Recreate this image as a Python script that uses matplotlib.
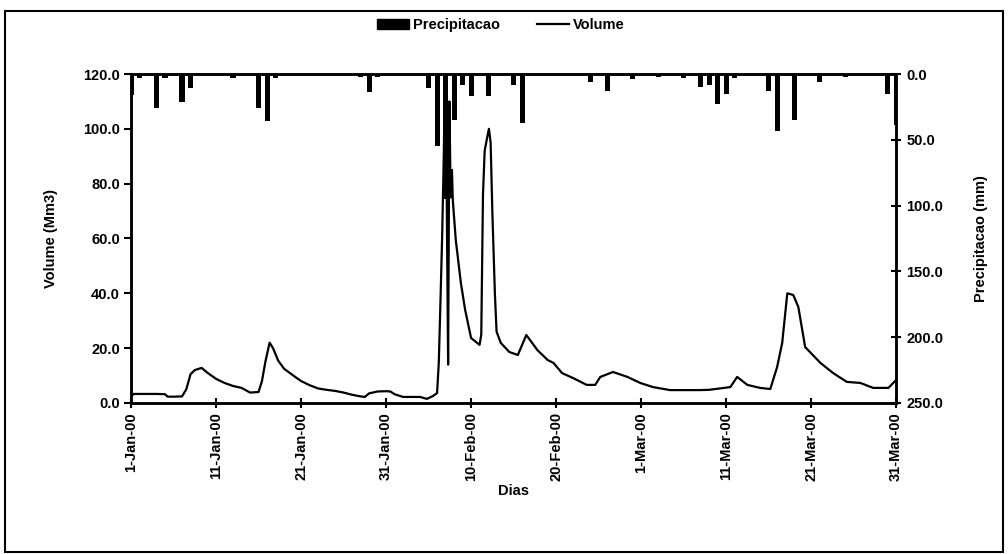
import matplotlib
matplotlib.use("Agg")
import matplotlib.pyplot as plt
from matplotlib.patches import Rectangle
from matplotlib.lines import Line2D
from matplotlib.patches import Patch

plt.rcParams['font.family'] = ['Liberation Sans Narrow', 'Liberation Sans', 'DejaVu Sans']

# Days counted from 1-Jan-2000 (day 0) to 31-Mar-2000 (day 90)
tick_days = [0, 10, 20, 30, 40, 50, 60, 70, 80, 90]
tick_labels = ["1-Jan-00", "11-Jan-00", "21-Jan-00", "31-Jan-00", "10-Feb-00",
               "20-Feb-00", "1-Mar-00", "11-Mar-00", "21-Mar-00", "31-Mar-00"]

# Reservoir volume (Mm3), sampled at irregular times (days)
vol_days = [0.0, 0.3, 1, 2, 3, 4, 4.3, 5, 6, 6.5, 7, 7.5, 8, 8.3, 9, 10, 11, 12, 13, 14,
            15, 15.4, 15.8, 16.3, 16.7, 17.3, 18, 19, 20, 21, 22, 23, 24, 25, 26, 27,
            27.5, 28, 29, 30, 30.5, 31, 32, 33, 34, 34.8, 35.5, 36.0, 36.2, 36.4, 36.6,
            36.8, 37.0, 37.15, 37.3, 37.45, 37.6, 37.75, 37.85, 38.2, 38.8, 39.3, 40.0,
            41.0, 41.2, 41.4, 41.6, 41.9, 42.1, 42.3, 42.5, 42.8, 43.0, 43.5, 44.5, 45.5,
            46.5, 47.8, 49.0, 49.7, 50.7, 52.0, 53.6, 54.6, 55.2, 56.7, 58.4, 59.9, 61.4,
            63.4, 66.9, 68.0, 70.5, 71.3, 72.5, 74.0, 75.2, 76.0, 76.6, 77.2, 77.9, 78.5,
            79.3, 81.1, 82.6, 84.2, 85.8, 87.3, 89.1, 90.0]
volume = [2.2, 3.3, 3.3, 3.3, 3.3, 3.2, 2.3, 2.3, 2.4, 5.0, 10.5, 12.0, 12.5, 12.8, 11.0,
          8.8, 7.3, 6.2, 5.5, 3.8, 4.0, 8.0, 15.0, 22.0, 20.0, 15.5, 12.5, 10.2, 8.0, 6.5,
          5.3, 4.8, 4.4, 3.8, 3.0, 2.4, 2.2, 3.5, 4.2, 4.3, 4.2, 3.2, 2.2, 2.2, 2.2, 1.5,
          2.5, 3.6, 14.5, 37.0, 61.0, 92.0, 140.0, 70.0, 14.0, 110.0, 75.0, 85.0, 74.0,
          59.5, 43.8, 34.0, 23.7, 21.2, 25.0, 76.0, 92.0, 97.0, 100.0, 95.0, 70.0, 40.0,
          26.0, 21.9, 18.6, 17.5, 24.8, 19.3, 15.7, 14.6, 10.9, 9.1, 6.6, 6.6, 9.5, 11.3,
          9.5, 7.3, 5.8, 4.7, 4.7, 4.8, 5.8, 9.5, 6.6, 5.5, 5.1, 13.1, 21.9, 40.0, 39.4,
          35.0, 20.4, 14.6, 10.9, 7.7, 7.3, 5.5, 5.5, 8.4]

# Daily precipitation (mm)
rain_days = [0, 1, 3, 4, 6, 7, 12, 15, 16, 17, 27, 28, 29, 33, 35, 36, 37, 38, 39, 40,
             41, 42, 44, 45, 46, 50, 52, 54, 56, 59, 62, 65, 67, 68, 69, 70, 71, 75, 76,
             78, 81, 84, 89, 90]
rain_mm = [16, 3, 26, 3, 21, 11, 3, 26, 36, 3, 2, 14, 2, 1, 11, 55, 95, 35, 8, 17,
           1, 17, 1, 8, 37, 1, 1, 6, 13, 4, 2, 3, 10, 8, 23, 15, 3, 13, 43,
           35, 6, 2, 15, 39]

fig = plt.figure(figsize=(10.08, 5.54), dpi=100)
ax = fig.add_axes([0.130, 0.2726, 0.759, 0.5938])
ax2 = ax.twinx()

# Precipitation bars hanging from the top (inverted right axis)
ax2.bar(rain_days, rain_mm, width=0.6, color='black', zorder=2)
ax2.set_ylim(250, 0)
ax2.set_yticks([0, 50, 100, 150, 200, 250])
ax2.set_yticklabels([f"{v:.1f}" for v in [0, 50, 100, 150, 200, 250]],
                    fontsize=10.5, fontweight='bold')
ax2.set_ylabel("Precipitacao (mm)", fontsize=10.5, fontweight='bold', labelpad=22)
ax2.tick_params(axis='y', direction='inout', length=7, width=1.5, pad=4)

# Volume line on the left axis
ax.plot(vol_days, volume, color='black', linewidth=1.6, zorder=3)
ax.set_zorder(ax2.get_zorder() + 1)
ax.patch.set_visible(False)
ax.set_xlim(0, 90)
ax.set_ylim(0, 120)
ax.set_yticks([0, 20, 40, 60, 80, 100, 120])
ax.set_yticklabels([f"{v:.1f}" for v in [0, 20, 40, 60, 80, 100, 120]],
                   fontsize=10.5, fontweight='bold')
ax.set_ylabel("Volume (Mm3)", fontsize=10.5, fontweight='bold', labelpad=18)
ax.tick_params(axis='y', direction='out', length=5, width=1.5, pad=3)

ax.set_xticks(tick_days)
ax.set_xticklabels(tick_labels, rotation=90, fontsize=10.5, fontweight='bold')
ax.tick_params(axis='x', direction='inout', length=7, width=1.5, pad=3)
ax.set_xlabel("Dias", fontsize=10.5, fontweight='bold', labelpad=2)

for a in (ax, ax2):
    for s in a.spines.values():
        s.set_linewidth(1.8)

# Legend across the top
handles = [Patch(facecolor='black', edgecolor='black'),
           Line2D([0], [0], color='black', linewidth=1.6)]
fig.legend(handles, ["Precipitacao", "Volume"], loc='center',
           bbox_to_anchor=(0.497, 0.955), ncol=2, frameon=False,
           prop={'weight': 'bold', 'size': 10.5},
           handlelength=2.2, handletextpad=0.3, columnspacing=2.5)

# Outer chart frame
fig.patches.append(Rectangle((0.005, 0.003), 0.99, 0.978, transform=fig.transFigure,
                             fill=False, edgecolor='black', linewidth=1.5))

fig.savefig("out.png", dpi=100)
